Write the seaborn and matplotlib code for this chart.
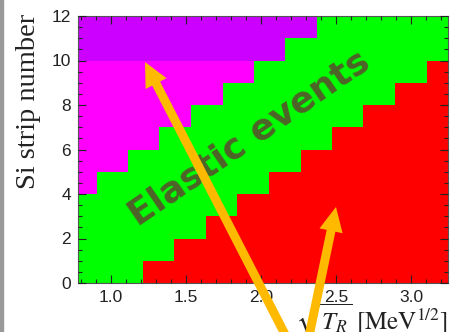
import matplotlib
matplotlib.use("Agg")
import matplotlib.pyplot as plt
from matplotlib.patches import Rectangle
from matplotlib.ticker import MultipleLocator
import seaborn as sns

# ---- data ----
strips_red = [0, 1, 2, 3, 4, 5, 6, 7, 8, 9]
red_start = [1.214, 1.420, 1.634, 1.841, 2.055, 2.268, 2.475, 2.682, 2.896, 3.109]
strips_magenta = [4, 5, 6, 7, 8, 9]
magenta_end = [0.907, 1.113, 1.320, 1.534, 1.748, 1.955]
strips_purple = [10, 11]
purple_end = [2.162, 2.375]
x_ticks = [1.0, 1.5, 2.0, 2.5, 3.0]
x_tick_labels = ["1.0", "1.5", "2.0", "2.5", "3.0"]
y_ticks = [0, 2, 4, 6, 8, 10, 12]
y_tick_labels = ["0", "2", "4", "6", "8", "10", "12"]
y_label = "Si strip number"
x_label = r"$\sqrt{T_R}\ [\mathrm{MeV}^{1/2}]$"
region_label = "Elastic events"

# ---- layout / style ----
X_MIN, X_MAX = 0.78, 3.247
Y_MIN, Y_MAX = 0, 12
GREEN, RED, MAGENTA, PURPLE = "#00FF00", "#FF0000", "#FF00FF", "#CC00FF"
ORANGE = "#FFBA00"

sns.set_theme(style="ticks")
plt.rcParams["font.family"] = ["Liberation Sans", "DejaVu Sans"]
plt.rcParams["mathtext.fontset"] = "stix"

fig = plt.figure(figsize=(4.51, 3.32), dpi=100)
fig.patch.set_facecolor("white")
ax = fig.add_axes([78 / 451, 49 / 332, 370 / 451, 267 / 332])
ax.set_facecolor(GREEN)

# red region (right side)
ax.barh(y=strips_red, width=[X_MAX + 0.1 - v for v in red_start], left=red_start,
        height=1, align="edge", color=RED, linewidth=0)
# magenta and purple regions (left side)
sns.barplot(x=magenta_end, y=[s + 0.5 for s in strips_magenta], orient="y",
            native_scale=True, width=1, color=MAGENTA, saturation=1,
            linewidth=0, errorbar=None, ax=ax)
sns.barplot(x=purple_end, y=[s + 0.5 for s in strips_purple], orient="y",
            native_scale=True, width=1, color=PURPLE, saturation=1,
            linewidth=0, errorbar=None, ax=ax)

ax.set_xlim(X_MIN, X_MAX)
ax.set_ylim(Y_MIN, Y_MAX)
ax.set_axisbelow(False)
ax.set_xticks(x_ticks, x_tick_labels)
ax.set_yticks(y_ticks, y_tick_labels)
ax.xaxis.set_minor_locator(MultipleLocator(0.1))
ax.yaxis.set_minor_locator(MultipleLocator(0.5))
ax.tick_params(which="both", direction="in", top=True, right=True,
               colors="#222222", labelsize=12.5, width=0.8)
ax.tick_params(which="major", length=6, pad=5)
ax.tick_params(which="minor", length=3)
for sp in ax.spines.values():
    sp.set_color("#555555")
    sp.set_linewidth(0.8)

ax.set_ylabel(y_label, family="Liberation Serif", fontsize=20.5, loc="top",
              color="#222222")
ax.yaxis.set_label_coords(-0.100, 1.01)
ax.set_xlabel(x_label, fontsize=18, loc="right", color="#222222")
ax.xaxis.set_label_coords(1.0, -0.068)
ax.xaxis.label.set_verticalalignment("top")

ax.text(1.961, 6.12, region_label, rotation=34.4, rotation_mode="anchor",
        ha="center", va="baseline", color="#4F6228", fontsize=26,
        fontweight="bold", family="DejaVu Sans", zorder=4)

arrow_style = "simple,head_length=1.75,head_width=1.7,tail_width=0.64"
for tip, tail in [((145, 270), (291, -14)), ((336, 125), (307, -14))]:
    ax.annotate("", xy=tip, xytext=tail, xycoords="figure pixels",
                textcoords="figure pixels", annotation_clip=False,
                arrowprops=dict(arrowstyle=arrow_style, mutation_scale=10,
                                color=ORANGE, shrinkA=0, shrinkB=0, lw=0),
                zorder=5)

fig.add_artist(Rectangle((0, 0), 3 / 451, 1, transform=fig.transFigure,
                         color="#999999", zorder=0))

fig.savefig("out.png", dpi=100)
